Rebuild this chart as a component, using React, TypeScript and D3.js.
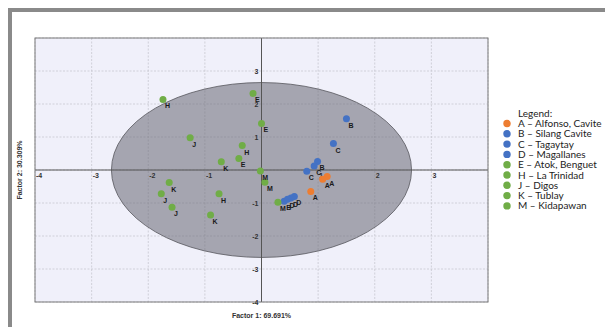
import * as d3 from 'd3'

// sample scores on the two factors
const groups = ['A', 'B', 'C', 'D', 'E', 'H', 'J', 'K', 'M']
const groupNames = [
	'A – Alfonso, Cavite',
	'B – Silang Cavite',
	'C – Tagaytay',
	'D – Magallanes',
	'E – Atok, Benguet',
	'H – La Trinidad',
	'J – Digos',
	'K – Tublay',
	'M – Kidapawan',
]
const groupColors = ['#ed7d31', '#4472c4', '#4472c4', '#4472c4', '#70ad47', '#70ad47', '#70ad47', '#70ad47', '#70ad47']

const factor1 = [
	1.16, 1.08, 0.87,
	1.5, 0.99, 0.4,
	1.27, 0.93, 0.8,
	0.58, 0.52, 0.46,
	-0.15, 0.0, -0.4,
	-1.74, -0.34, -0.75,
	-1.26, -1.77, -1.58,
	-0.71, -1.63, -0.9,
	-0.02, 0.06, 0.29,
]
const factor2 = [
	-0.2, -0.28, -0.65,
	1.55, 0.26, -0.95,
	0.8, 0.12, -0.04,
	-0.8, -0.85, -0.89,
	2.32, 1.41, 0.35,
	2.14, 0.74, -0.72,
	0.98, -0.72, -1.13,
	0.25, -0.38, -1.36,
	-0.03, -0.37, -0.98,
]
const sampleGroup = [
	'A', 'A', 'A',
	'B', 'B', 'B',
	'C', 'C', 'C',
	'D', 'D', 'D',
	'E', 'E', 'E',
	'H', 'H', 'H',
	'J', 'J', 'J',
	'K', 'K', 'K',
	'M', 'M', 'M',
]

const xTicks = [-4, -3, -2, -1, 1, 2, 3]
const yTicks = [3, 2, 1, -1, -2, -3, -4]
const gridValues = [-4, -3, -2, -1, 0, 1, 2, 3, 4]
const ellipseRadius = 2.65

const width = 605
const height = 327
const plotLeft = 35
const plotRight = 488
const plotTop = 38
const plotBottom = 302

const App = () => {
	const x = d3.scaleLinear().domain([-4, 4]).range([plotLeft, plotRight])
	const y = d3.scaleLinear().domain([-4, 4]).range([plotBottom, plotTop])
	const color = d3.scaleOrdinal<string, string>().domain(groups).range(groupColors)

	const points = d3.range(factor1.length).map((i) => ({
		fx: factor1[i],
		fy: factor2[i],
		g: sampleGroup[i],
	}))

	const legendY = d3.scaleLinear().domain([0, 1]).range([123.5, 133.8])

	return (
		<div style={{ position: 'fixed', left: 0, top: 0 }}>
			<svg width={width} height={height} style={{ display: 'block', background: '#fff' }}>
				{/* outer frame */}
				<rect x={10} y={10} width={620} height={340} fill="#fff" stroke="#8a8a8a" strokeWidth={4} />

				{/* plot area */}
				<rect x={plotLeft} y={plotTop} width={plotRight - plotLeft} height={plotBottom - plotTop} fill="#f0f0fa" />
				{gridValues.map((v) => (
					<g key={'g' + v}>
						<line x1={x(v)} x2={x(v)} y1={plotTop} y2={plotBottom} stroke="#c8c8d0" strokeWidth={0.8} strokeDasharray="2,1.5" />
						<line x1={plotLeft} x2={plotRight} y1={y(v)} y2={y(v)} stroke="#c8c8d0" strokeWidth={0.8} strokeDasharray="2,1.5" />
					</g>
				))}

				{/* confidence ellipse */}
				<ellipse
					cx={x(0)}
					cy={y(0)}
					rx={x(ellipseRadius) - x(0)}
					ry={y(0) - y(ellipseRadius)}
					fill="#6e6e7a"
					fillOpacity={0.58}
					stroke="#55555c"
					strokeWidth={0.8}
				/>

				{/* axes through origin */}
				<line x1={x(0)} x2={x(0)} y1={plotTop} y2={plotBottom} stroke="#555" strokeWidth={1} />
				<line x1={plotLeft} x2={plotRight} y1={y(0)} y2={y(0)} stroke="#555" strokeWidth={1} />
				<rect x={plotLeft} y={plotTop} width={plotRight - plotLeft} height={plotBottom - plotTop} fill="none" stroke="#7a7a7a" strokeWidth={1} />

				{/* tick labels */}
				<g fontFamily="Arial, 'Liberation Sans', sans-serif" fontSize={7} fontWeight="bold" fill="#333">
					{xTicks.map((t) => (
						<text key={'x' + t} x={x(t) + 1} y={y(0) + 8} textAnchor="start">
							{t}
						</text>
					))}
					{yTicks.map((t) => (
						<text key={'y' + t} x={x(0) - 3} y={y(t) + 2.5} textAnchor="end">
							{t}
						</text>
					))}
				</g>

				{/* samples */}
				{points.map((p, i) => (
					<circle key={'p' + i} cx={x(p.fx)} cy={y(p.fy)} r={3.5} fill={color(p.g)} />
				))}
				<g fontFamily="Arial, 'Liberation Sans', sans-serif" fontSize={7} fontWeight="bold" fill="#1a1a1a">
					{points.map((p, i) => (
						<text key={'l' + i} x={x(p.fx) + 2} y={y(p.fy) + 9}>
							{p.g}
						</text>
					))}
				</g>

				{/* axis titles */}
				<text
					x={x(0)}
					y={318}
					textAnchor="middle"
					fontFamily="Arial, 'Liberation Sans', sans-serif"
					fontSize={7}
					fontWeight="bold"
					fill="#333"
				>
					Factor 1: 69.691%
				</text>
				<text
					transform={`translate(22,${y(0)}) rotate(-90)`}
					textAnchor="middle"
					fontFamily="Arial, 'Liberation Sans', sans-serif"
					fontSize={7}
					fontWeight="bold"
					fill="#333"
				>
					Factor 2: 30.309%
				</text>

				{/* legend */}
				<g fontFamily="Lato, 'Open Sans', sans-serif" fontSize={10} fill="#222">
					<text x={518} y={legendY(-1) + 3.5}>
						Legend:
					</text>
					{groups.map((g, i) => (
						<g key={'lg' + g}>
							<circle cx={507} cy={legendY(i)} r={3.7} fill={color(g)} />
							<text x={518} y={legendY(i) + 3.5}>
								{groupNames[i]}
							</text>
						</g>
					))}
				</g>
			</svg>
		</div>
	)
}

export default App
